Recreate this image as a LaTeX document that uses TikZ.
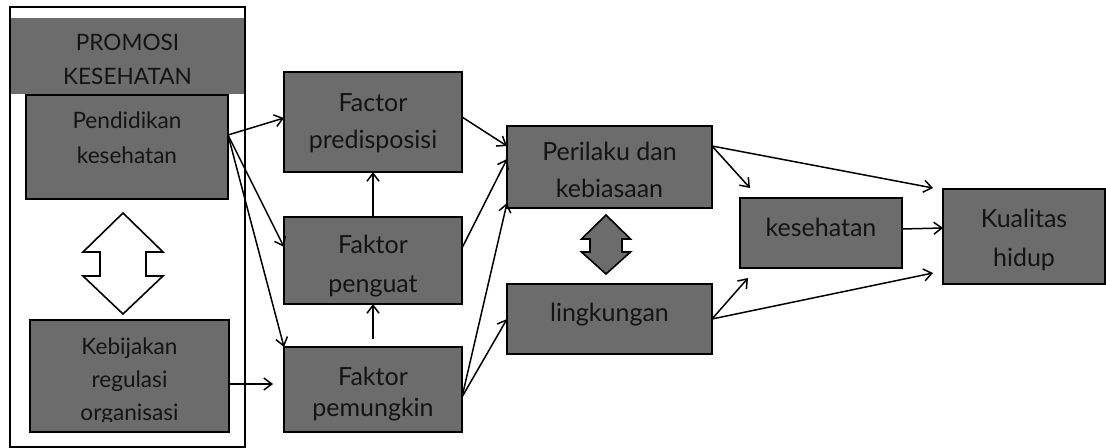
\documentclass[tikz,border=0pt]{standalone}
\usepackage{fontspec}
\setmainfont{Lato}
\usetikzlibrary{positioning, arrows.meta}
\definecolor{boxgray}{RGB}{108,108,108}
\definecolor{inkgray}{RGB}{20,20,20}
\tikzset{box/.style={draw,fill=boxgray,inner sep=0pt,outer sep=0pt}}
\tikzset{txt/.style={align=center,inner sep=0pt,text=inkgray,font=\fontsize{12.5}{18.5}\selectfont}}
\tikzset{smalltxt/.style={txt,font=\fontsize{11.3}{17.25}\selectfont}}

\begin{document}
\begin{tikzpicture}[x=0.5pt,y=-0.5pt,line width=0.75pt,>={Straight Barb[length=4pt,width=6pt]}]
\useasboundingbox (0,0) rectangle (1106,448);

% Promosi kesehatan frame
\node[fill=boxgray,inner sep=0pt,minimum width=117.5pt,minimum height=38pt] (head) at (127.5,56) {};
\node[draw,line width=1.4pt,inner sep=0pt,minimum width=117.5pt,minimum height=220pt] (frame) at (127.5,227) {};
\node[smalltxt] (headtxt) at (127.5,59.5) {PROMOSI\\KESEHATAN};

% Boxes inside the frame
\node[box,minimum width=101pt,minimum height=52pt] (pend) at (127,147) {};
\node[box,minimum width=99.5pt,minimum height=56pt] (keb) at (129.5,376) {};
\node[smalltxt] (pendtxt) at (127,138) {Pendidikan\\kesehatan};
\node[smalltxt,font=\fontsize{11.3}{16.5}\selectfont] (kebtxt) at (129.5,381) {Kebijakan\\regulasi\\organisasi};
\fill[boxgray] (30.7,421.5) rectangle (228.3,431.3);

% Open double arrow
\draw[line width=0.8pt,fill=white] (123,213) -- (163,252) -- (146,252) -- (146,276) -- (163,276)
  -- (123,314) -- (83,276) -- (100,276) -- (100,252) -- (83,252) -- cycle;

% Factor column
\node[box,minimum width=89pt,minimum height=50pt] (pred) at (373,122) {};
\node[box,minimum width=89pt,minimum height=43.5pt,below=22.5pt of pred] (peng) {};
\node[box,minimum width=89pt,minimum height=42.5pt,below=21.5pt of peng] (pemu) {};
\node[txt] (predtxt) at (373,123.5) {Factor\\predisposisi};
\node[txt,font=\fontsize{12.5}{19.5}\selectfont] (pengtxt) at (373,266.5) {Faktor\\penguat};
\node[txt,font=\fontsize{12.5}{15.5}\selectfont] (pemutxt) at (373,394.25) {Faktor\\pemungkin};
\fill[boxgray] (284.7,420.5) rectangle (461.3,431.3);

% Behaviour and environment
\node[box,minimum width=102.5pt,minimum height=41pt] (peri) at (609.5,167) {};
\node[box,minimum width=102.5pt,minimum height=35pt,below=38pt of peri] (ling) {};
\node[txt] (peritxt) at (609.5,169.5) {Perilaku dan\\kebiasaan};
\node[txt] (lingtxt) at (609.5,315) {lingkungan};

% Filled double arrow
\draw[line width=0.8pt,fill=boxgray] (606,215) -- (630.5,239) -- (622,239) -- (622,252) -- (630.5,252)
  -- (606,274) -- (581.5,252) -- (590,252) -- (590,239) -- (581.5,239) -- cycle;

% Outcomes
\node[box,minimum width=81pt,minimum height=35pt] (kes) at (821,233) {};
\node[box,minimum width=81pt,minimum height=47.5pt] (kual) at (1024,236.5) {};
\node[txt] (kestxt) at (821,227) {kesehatan};
\node[txt,font=\fontsize{12.5}{19.5}\selectfont] (kualtxt) at (1024,239.5) {Kualitas\\hidup};

% Draw lines from frame boxes
\path[draw,->] ([yshift=6pt]pend.east) -- ([yshift=2pt]pred.west);
\path[draw,->] ([yshift=6pt]pend.east) -- ([yshift=6.75pt]peng.west);
\path[draw,->] ([yshift=6pt]pend.east) -- (pemu.north west);
\path[draw,->,shorten >=5.5pt] ([yshift=-4pt]keb.east) -- ([yshift=-4pt]keb.east -| pemu.west);

% Draw lines inside factor column
\path[draw,->] (peng.north) -- (pred.south);
\path[draw,->] ([yshift=4pt]pemu.north) -- (peng.south);

% Draw lines from factors
\path[draw,->] ([yshift=2.5pt]pred.east) -- ([yshift=10.5pt]peri.west);
\path[draw,->] ([yshift=6.25pt]peng.east) -- ([yshift=4pt]peri.west);
\path[draw,->] ([yshift=-3.75pt]pemu.east) -- ([yshift=2.5pt]peri.south west);
\path[draw,->] ([yshift=-3.75pt]pemu.east) -- (ling.west);

% Draw lines towards outcomes
\path[draw,->] ([yshift=10.5pt]peri.east) -- ([shift={(5pt,5pt)}]kes.north west);
\path[draw,->] ([yshift=10.5pt]peri.east) -- ([shift={(-5pt,0.5pt)}]kual.north west);
\path[draw,->] (ling.east) -- ([shift={(4pt,-5pt)}]kes.south west);
\path[draw,->] (ling.east) -- ([shift={(-5pt,5.5pt)}]kual.south west);
\path[draw,->] ([yshift=2pt]kes.east) -- ([yshift=4.25pt]kual.west);

\end{tikzpicture}
\end{document}
